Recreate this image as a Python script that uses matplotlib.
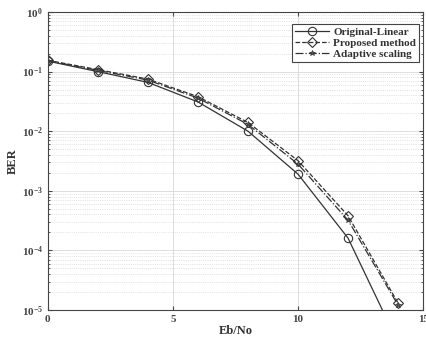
import numpy as np
import matplotlib
matplotlib.use("Agg")
import matplotlib.pyplot as plt
from matplotlib.ticker import LogLocator, NullFormatter

# SECTION Data

ebno = [0, 2, 4, 6, 8, 10, 12, 14]
ber_original = [0.150, 0.100, 0.066, 0.031, 0.0100, 0.0019, 1.6e-4, 2.8e-6]
ber_proposed = [0.155, 0.108, 0.075, 0.038, 0.0140, 0.0032, 3.8e-4, 1.3e-5]
ber_adaptive = [0.152, 0.105, 0.072, 0.036, 0.0130, 0.0028, 3.2e-4, 1.2e-5]

x_ticks = [0, 5, 10, 15]

# SECTION Plot

plt.rcParams['font.family'] = ['Liberation Serif', 'DejaVu Serif']
plt.rcParams['font.weight'] = 'bold'
plt.rcParams['mathtext.fontset'] = 'custom'
plt.rcParams['mathtext.rm'] = 'Liberation Serif:bold'

fig = plt.figure(figsize=(4.27, 3.44), dpi=100)
ax = fig.add_axes([0.112, 0.099, 0.879, 0.866])

ax.semilogy(ebno, ber_original, '-', color='#333333', lw=0.9,
            marker='o', ms=6, mfc='none', mec='#333333', mew=0.8,
            label='Original-Linear')
ax.semilogy(ebno, ber_proposed, '--', color='#333333', lw=0.9,
            marker='D', ms=5, mfc='none', mec='#333333', mew=0.8,
            label='Proposed method')
ax.semilogy(ebno, ber_adaptive, '-.', color='#333333', lw=0.9,
            marker='*', ms=4, mfc='#555555', mec='#333333', mew=0.5,
            label='Adaptive scaling')

ax.set_xlim(0, 15)
ax.set_ylim(1e-5, 1)
ax.set_xticks(x_ticks)
ax.yaxis.set_major_locator(LogLocator(base=10, numticks=10))
ax.yaxis.set_minor_locator(LogLocator(base=10, subs=np.arange(2, 10), numticks=10))
ax.yaxis.set_minor_formatter(NullFormatter())

ax.grid(True, which='major', color='#d8d8d8', lw=0.6, ls='-')
ax.grid(True, which='minor', color='#cccccc', lw=0.5, ls=':')
ax.tick_params(which='both', direction='in', top=True, right=True,
               labelsize=8, colors='#444444', length=3)
ax.tick_params(which='minor', length=1.5)
for sp in ax.spines.values():
    sp.set_color('#444444')
    sp.set_linewidth(0.8)

ax.set_xlabel('Eb/No', fontsize=9, fontweight='bold', color='#333333', labelpad=1)
ax.set_ylabel('BER', fontsize=9, fontweight='bold', color='#333333', labelpad=2)

leg = ax.legend(loc='upper right', bbox_to_anchor=(1.005, 0.978), fontsize=8,
                fancybox=False, framealpha=1, edgecolor='#444444',
                handlelength=3, borderpad=0.3, labelspacing=0.1,
                handletextpad=0.4)
leg.get_frame().set_linewidth(0.8)
for t in leg.get_texts():
    t.set_color('#333333')

fig.savefig('out.png', dpi=100)
